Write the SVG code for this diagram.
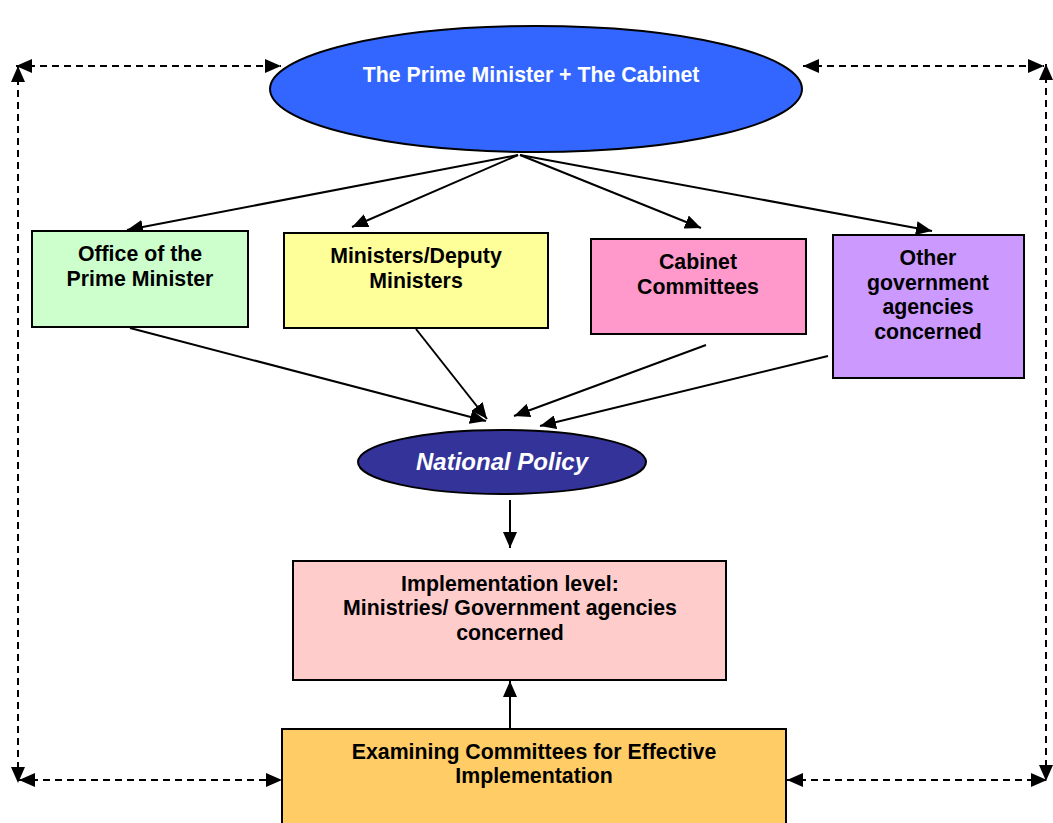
<svg xmlns="http://www.w3.org/2000/svg" width="1053" height="823" viewBox="0 0 1053 823">
<defs>
<marker id="ah" viewBox="0 0 16 14" refX="16" refY="7" markerWidth="16" markerHeight="14" markerUnits="userSpaceOnUse" orient="auto-start-reverse">
<path d="M0,0 L16,7 L0,14 Z" fill="#000"/>
</marker>
<style>
.box{stroke:#000;stroke-width:2}
.t{font-family:"Liberation Sans",Arial,sans-serif;font-weight:bold;font-size:21.3px;text-anchor:middle;fill:#000}
.w{fill:#fff}
.c{stroke:#000;stroke-width:2;fill:none;marker-end:url(#ah)}
.d{stroke:#000;stroke-width:2;fill:none;stroke-dasharray:7 5;marker-start:url(#ah);marker-end:url(#ah)}
</style>
</defs>
<rect width="1053" height="823" fill="#fff"/>
<g id="connectors">
<line class="c" x1="518" y1="155" x2="127" y2="230"/>
<line class="c" x1="518" y1="155" x2="352" y2="227"/>
<line class="c" x1="520" y1="155" x2="701" y2="228"/>
<line class="c" x1="520" y1="155" x2="932" y2="231"/>
<line class="c" x1="130" y1="328" x2="486" y2="421"/>
<line class="c" x1="416" y1="329" x2="487" y2="419"/>
<line class="c" x1="706" y1="345" x2="514" y2="416"/>
<line class="c" x1="828" y1="356" x2="540" y2="426"/>
<line class="c" x1="510" y1="500" x2="510" y2="548"/>
<line class="c" x1="510" y1="729" x2="510" y2="681"/>
<line class="d" x1="16" y1="66" x2="281" y2="66"/>
<line class="d" x1="18" y1="66" x2="18" y2="783"/>
<line class="d" x1="19" y1="780" x2="282" y2="780"/>
<line class="d" x1="803" y1="66" x2="1044" y2="66"/>
<line class="d" x1="1046" y1="64" x2="1046" y2="781"/>
<line class="d" x1="787" y1="780" x2="1047" y2="780"/>
</g>
<g id="pm">
<ellipse class="box" cx="536" cy="89" rx="266" ry="63" fill="#3366FF"/>
<text class="t w" x="531" y="82">The Prime Minister + The Cabinet</text>
</g>
<g id="office">
<rect class="box" x="32" y="231" width="216" height="96" fill="#CCFFCC"/>
<text class="t" x="140" y="261">Office of the</text>
<text class="t" x="140" y="286">Prime Minister</text>
</g>
<g id="ministers">
<rect class="box" x="284" y="233" width="264" height="95" fill="#FFFF99"/>
<text class="t" x="416" y="263">Ministers/Deputy</text>
<text class="t" x="416" y="288">Ministers</text>
</g>
<g id="cabinet">
<rect class="box" x="591" y="239" width="215" height="95" fill="#FF99CC"/>
<text class="t" x="698" y="269">Cabinet</text>
<text class="t" x="698" y="294">Committees</text>
</g>
<g id="other">
<rect class="box" x="833" y="235" width="191" height="143" fill="#CC99FF"/>
<text class="t" x="928" y="265">Other</text>
<text class="t" x="928" y="290">government</text>
<text class="t" x="928" y="314">agencies</text>
<text class="t" x="928" y="339">concerned</text>
</g>
<g id="national">
<ellipse class="box" cx="502" cy="462" rx="144" ry="32" fill="#333399"/>
<text class="t w" x="502" y="470" style="font-size:24px;font-style:italic">National Policy</text>
</g>
<g id="implementation">
<rect class="box" x="293" y="561" width="433" height="119" fill="#FFCCCC"/>
<text class="t" x="510" y="591">Implementation level:</text>
<text class="t" x="510" y="615">Ministries/ Government agencies</text>
<text class="t" x="510" y="640">concerned</text>
</g>
<g id="examining">
<rect class="box" x="282" y="729" width="504" height="100" fill="#FFCC66"/>
<text class="t" x="534" y="759">Examining Committees for Effective</text>
<text class="t" x="534" y="783">Implementation</text>
</g>
</svg>
